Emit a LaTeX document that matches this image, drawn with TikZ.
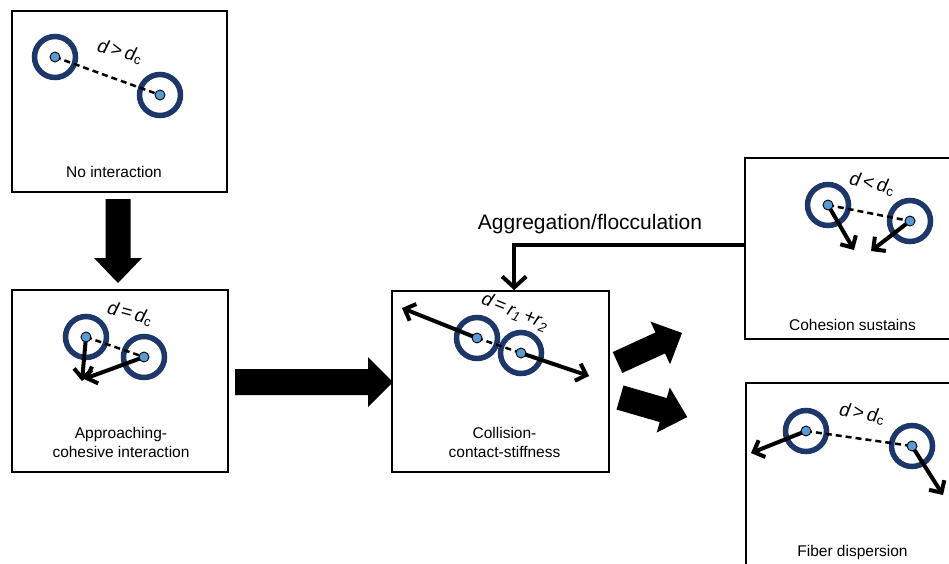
\documentclass[tikz,border=0pt]{standalone}
\usepackage{fontspec}
\setmainfont{Liberation Sans}
\usetikzlibrary{arrows.meta,calc}
\definecolor{ringblue}{RGB}{30,55,105}
\definecolor{dotblue}{RGB}{91,155,213}
\begin{document}
\begin{tikzpicture}[x=1pt,y=-1pt,
  box/.style={draw=black,line width=1.7pt,rectangle,inner sep=0pt},
  ring/.style={circle,draw=ringblue,line width=5.5pt,minimum size=41pt,inner sep=0pt},
  dot/.style={circle,fill=dotblue,draw=black,line width=0.9pt,minimum size=10pt,inner sep=0pt},
  dashline/.style={black,line width=2.5pt,dash pattern=on 6pt off 4pt},
  vec/.style={black,line width=4pt,-{Straight Barb[length=9pt,width=18pt]}},
  lbl/.style={font=\fontsize{15.5}{19}\selectfont,align=center,inner sep=0pt},
  dlbl/.style={font=\fontsize{19}{22}\selectfont\itshape,inner sep=0pt},
  agg/.style={black,line width=4pt,-{Straight Barb[length=11pt,width=24pt]}},
  fat/.style={fill=black}
]
\clip (0,0) rectangle (949,563);
\fill[white] (0,0) rectangle (949,563);

% boxes
\node[box,minimum width=215pt,minimum height=181pt] (b1) at (119.5,101.5) {};
\node[box,minimum width=216pt,minimum height=182pt] (b2) at (120,381) {};
\node[box,minimum width=217pt,minimum height=181pt] (b3) at (500.5,381.5) {};
\node[box,minimum width=215pt,minimum height=181pt] (b4) at (852.5,248.5) {};
\node[box,minimum width=215pt,minimum height=183pt] (b5) at (853.5,474.5) {};

% box labels
\node[lbl] (t1) at (114,172) {No interaction};
\node[lbl] (t2) at (121,442.5) {Approaching-\\cohesive interaction};
\node[lbl] (t3) at (504.5,442.5) {Collision-\\contact-stiffness};
\node[lbl] (t4) at (852.5,325) {Cohesion sustains};
\node[lbl] (t5) at (852.5,552) {Fiber dispersion};

% distance labels
\node[dlbl,rotate=-15] (d1) at (120,52) {d\,\upshape>\,\itshape d\textsubscript{\upshape c}};
\node[dlbl,rotate=-15] (d2) at (130,314) {d\,=\,d\textsubscript{\upshape c}};
\node[dlbl,rotate=-22] (d3) at (515,312) {d\,=\,r\textsubscript{1}\,+r\textsubscript{2}};
\node[dlbl,rotate=-12] (d4) at (872,184) {d\,\upshape<\,\itshape d\textsubscript{\upshape c}};
\node[dlbl,rotate=-10] (d5) at (862,414) {d\,\upshape>\,\itshape d\textsubscript{\upshape c}};

% rings
\node[ring] (r11) at (55,57) {};
\node[ring] (r12) at (160,95) {};
\node[ring] (r21) at (86,337) {};
\node[ring] (r22) at (144,357) {};
\node[ring] (r31) at (477,338) {};
\node[ring] (r32) at (521,353) {};
\node[ring] (r41) at (828,205) {};
\node[ring] (r42) at (910,221) {};
\node[ring] (r51) at (806,431) {};
\node[ring] (r52) at (912,446) {};

% dashed distances
\draw[dashline] (r11.center) -- (r12.center);
\draw[dashline] (r21.center) -- (r22.center);
\draw[dashline] (r31.center) -- (r32.center);
\draw[dashline] (r41.center) -- (r42.center);
\draw[dashline] (r51.center) -- (r52.center);

% velocity end points
\coordinate (e21) at (82,381);
\coordinate (e22) at (84,379);
\coordinate (e31) at (402,308);
\coordinate (e32) at (589,376);
\coordinate (e41) at (854,250);
\coordinate (e42) at (871,251);
\coordinate (e51) at (751,453);
\coordinate (e52) at (943,495);

\draw[vec] (r21.center) -- (e21);
\draw[vec] (r22.center) -- (e22);
\draw[vec] (r31.center) -- (e31);
\draw[vec] (r32.center) -- (e32);
\draw[vec] (r41.center) -- (e41);
\draw[vec] (r42.center) -- (e42);
\draw[vec] (r51.center) -- (e51);
\draw[vec] (r52.center) -- (e52);

% dots
\foreach \n in {r11,r12,r21,r22,r31,r32,r41,r42,r51,r52}
  \node[dot] at (\n.center) {};

% big arrows
\fill[fat,shift={(118,199)},rotate=-90] (0,-12.5) -- (59,-12.5) -- (59,-24) -- (84,0) -- (59,24) -- (59,12.5) -- (0,12.5) -- cycle;
\fill[fat,shift={(235,382)}] (0,-13) -- (133,-13) -- (133,-25) -- (158,0) -- (133,25) -- (133,13) -- (0,13) -- cycle;
\fill[fat,shift={(617.5,362.5)},rotate=24.6] (0,-11.5) -- (47,-11.5) -- (47,-23.5) -- (71,0) -- (47,23.5) -- (47,11.5) -- (0,11.5) -- cycle;
\fill[fat,shift={(620,397.5)},rotate=-16.2] (0,-12.5) -- (45,-12.5) -- (45,-23.5) -- (70,0) -- (45,23.5) -- (45,12.5) -- (0,12.5) -- cycle;

% aggregation feedback
\coordinate (aggstart) at (745,245);
\draw[agg] (aggstart) -| ($(b3.north west)+(123,0)$);
\node[font=\fontsize{21}{25}\selectfont,inner sep=0pt] (aggl) at (590,224) {Aggregation/flocculation};
\end{tikzpicture}
\end{document}
